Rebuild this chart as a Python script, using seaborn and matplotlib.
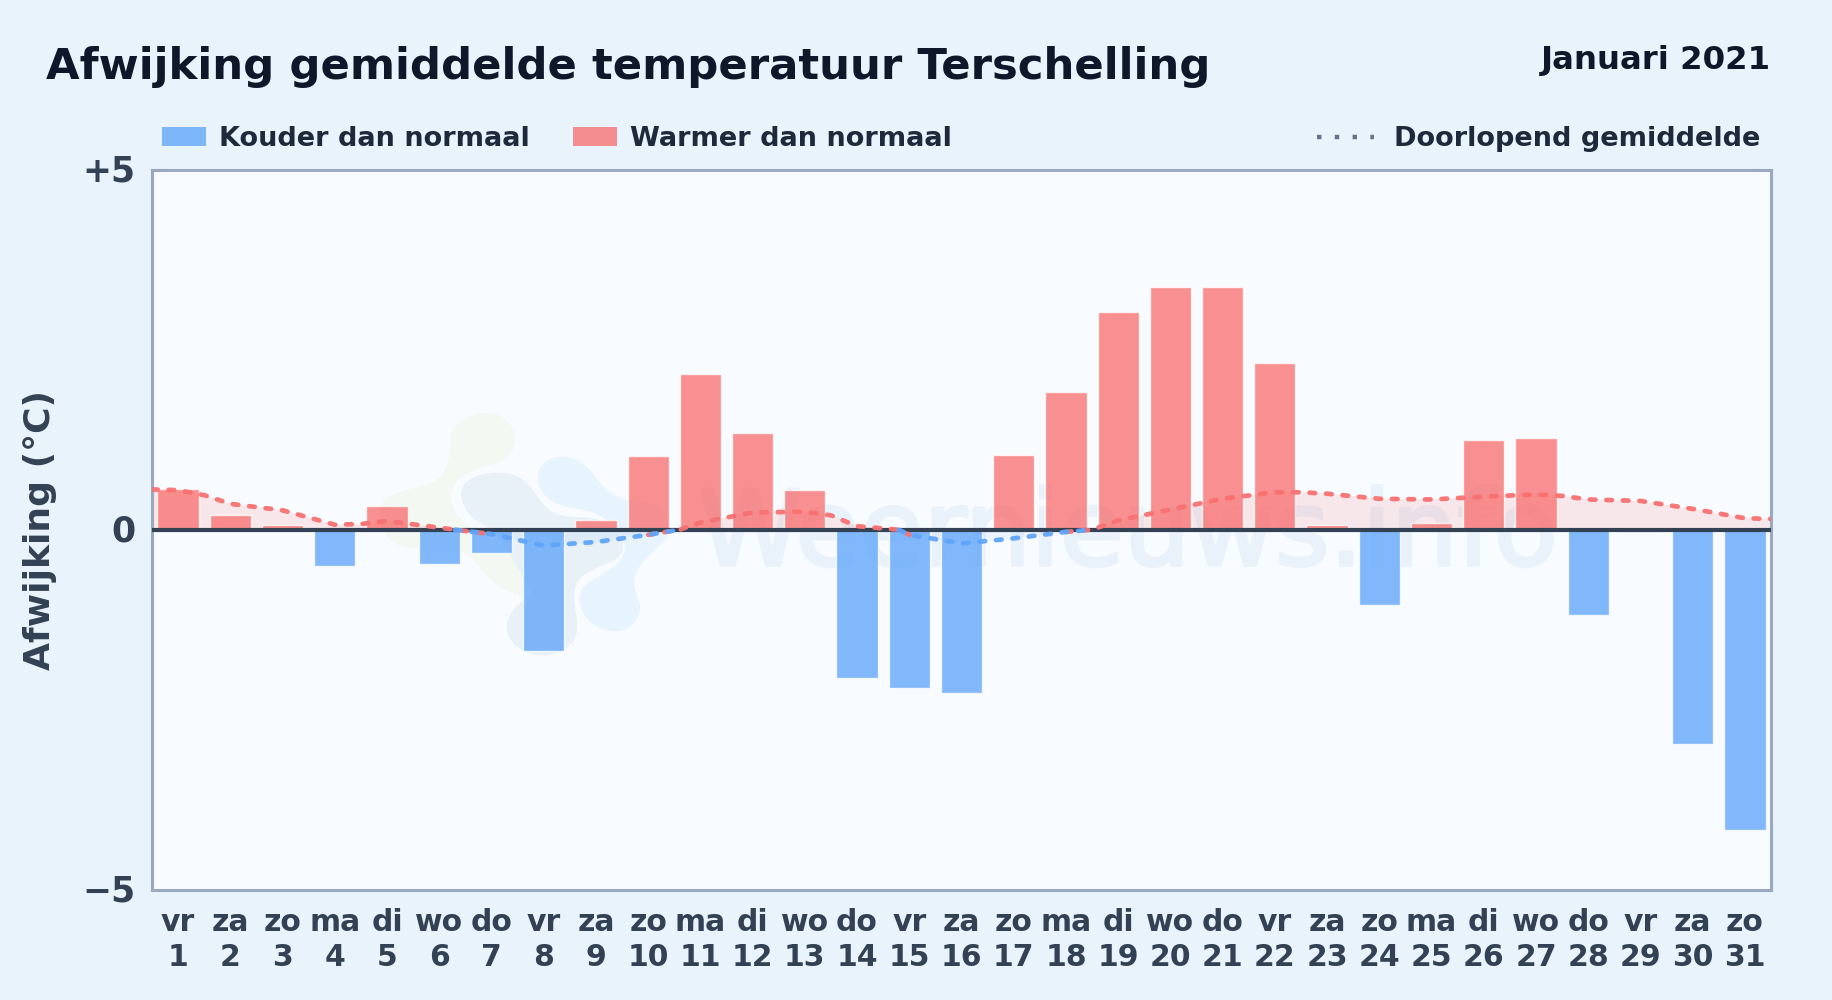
import numpy as np
import pandas as pd
import matplotlib
matplotlib.use("Agg")
import matplotlib.pyplot as plt
from matplotlib.patches import Rectangle, PathPatch
from matplotlib.path import Path
from matplotlib.transforms import ScaledTranslation
import matplotlib.patheffects as pe
import seaborn as sns

weekdays = ["vr","za","zo","ma","di","wo","do","vr","za","zo","ma","di","wo","do","vr","za","zo","ma","di","wo","do","vr","za","zo","ma","di","wo","do","vr","za","zo"]
days = list(range(1, 32))
anomaly = [0.57,0.20,0.07,-0.50,0.33,-0.47,-0.32,-1.68,0.14,1.03,2.16,1.34,0.55,-2.06,-2.20,-2.27,1.04,1.91,3.02,3.37,3.37,2.31,0.06,-1.04,0.09,1.25,1.27,-1.18,-0.03,-2.97,-4.17]
running_x = [-0.5,0,0.5,1,2,3,3.5,4,5,5.3,6,7,8,9,9.6,10,11,12,12.5,13,13.8,14,15,16,17,17.5,18,19,20,21,21.5,22,23,24,25,26,26.5,27,28,29,30,30.5]
running_y = [0.56,0.55,0.48,0.36,0.27,0.07,0.08,0.12,0.03,0.0,-0.06,-0.22,-0.17,-0.07,0.0,0.10,0.24,0.25,0.20,0.05,0.0,-0.07,-0.19,-0.12,-0.03,0.0,0.13,0.28,0.43,0.52,0.52,0.50,0.43,0.42,0.46,0.49,0.47,0.42,0.40,0.29,0.16,0.15]
title = "Afwijking gemiddelde temperatuur Terschelling"
period = "Januari 2021"

DPI = 100
sns.set_theme(style="white")
plt.rcParams["font.family"] = ["DejaVu Sans"]
plt.rcParams["font.weight"] = "bold"

W, H = 1832, 1000
fig = plt.figure(figsize=(W/DPI, H/DPI), dpi=DPI, facecolor="#e8f3fc")
L, R, T, B = 152, 1771, 169.5, 890
ax = fig.add_axes([L/W, 1-B/H, (R-L)/W, (B-T)/H], facecolor="#f8fbff")

def fx(x): return x/W
def fy(y): return 1-y/H

# pale logo behind the plot, outlined in crop coordinates of the reference
logo_green = [(330,120),(420,70),(500,90),(530,160),(490,220),(400,240),(340,280),(330,340),(370,400),(450,440),(520,500),(570,610),(520,610),(440,560),(400,500),(340,470),(240,475),(160,460),(125,400),(130,330),(200,300),(300,280),(335,200)]
logo_grey = [(370,290),(430,255),(520,255),(570,290),(600,340),(650,385),(780,385),(850,450),(830,510),(740,540),(690,590),(715,720),(680,770),(600,795),(520,760),(495,700),(530,640),(580,610),(550,560),(500,470),(460,420),(400,390),(370,340)]
logo_blue = [(590,260),(630,210),(700,205),(750,240),(790,300),(850,335),(960,345),(985,430),(950,470),(880,540),(880,600),(905,650),(870,710),(810,720),(745,690),(715,630),(730,580),(800,545),(855,500),(850,440),(780,370),(680,355),(620,330)]
def blob(pts, color):
    p = np.array(pts, float)
    p = p.mean(axis=0) + (p - p.mean(axis=0))*1.03
    p = np.column_stack([(340 + p[:, 0]/3)/W, 1 - (390 + p[:, 1]/3)/H])
    mids = (p + np.roll(p, -1, axis=0))/2
    verts = [mids[-1]]; codes = [Path.MOVETO]
    for c, m in zip(p, mids):
        verts += [c, m]; codes += [Path.CURVE3, Path.CURVE3]
    ax.add_patch(PathPatch(Path(verts, codes), transform=fig.transFigure, facecolor=color, lw=0, zorder=0.5))
blob(logo_green, "#f3f8f3")
blob(logo_grey, "#e8f0f8")
blob(logo_blue, "#e8f4fd")

df = pd.DataFrame({
    "label": [f"{w}\n{d}" for w, d in zip(weekdays, days)],
    "value": anomaly,
    "sign": ["warm" if v >= 0 else "koud" for v in anomaly],
})
sns.barplot(data=df, x="label", y="value", hue="sign", dodge=False, width=0.79,
            palette={"warm": "#f87171", "koud": "#60a5fa"}, alpha=0.78,
            saturation=1, legend=False, ax=ax, zorder=3, errorbar=None)

rx = np.array(running_x); ry = np.array(running_y)
ax.fill_between(rx, ry, 0, where=ry >= 0, color="#f87171", alpha=0.14, lw=0, zorder=2, interpolate=True)
ax.fill_between(rx, ry, 0, where=ry <= 0, color="#60a5fa", alpha=0.08, lw=0, zorder=2, interpolate=True)
neg = ry <= 0
rm = np.ma.masked_where(np.array([(ry[i] < 0) and (ry[max(i-1,0)] < 0) and (ry[min(i+1,len(ry)-1)] < 0) for i in range(len(ry))]), ry)
bm = np.ma.masked_where(~neg, ry)
for series, col in ((rm, "#f87171"), (bm, "#60a5fa")):
    ax.plot(rx, series, color=col, lw=3.4, dashes=(1.2, 2.3), dash_capstyle="round", zorder=5, alpha=0.95)

ax.axhline(0, color="#334155", lw=3, zorder=4)
ax.set_xlim(-0.5, 30.5)
ax.set_ylim(-5, 5)
ax.set_yticks([-5, 0, 5], ["\u22125", "0", "+5"])
ax.tick_params(axis="y", length=0, labelsize=25, labelcolor="#334155", pad=12)
ax.tick_params(axis="x", length=0, labelsize=21.5, labelcolor="#334155", pad=13)
for lab in ax.get_xticklabels() + ax.get_yticklabels():
    lab.set_fontweight("bold")
shift = ScaledTranslation(0, -0.017, fig.dpi_scale_trans)
for lab in ax.get_yticklabels():
    lab.set_verticalalignment("center")
    lab.set_transform(lab.get_transform() + shift)
for lab in ax.get_xticklabels():
    lab.set_linespacing(1.25)
ax.set_xlabel("")
ax.set_ylabel("Afwijking (\u00b0C)", fontsize=26, fontweight="bold", color="#334155", va="center")
ax.yaxis.set_label_coords((40 - L)/(R - L), 0.5)
for s in ax.spines.values():
    s.set_visible(True); s.set_color("#9aa9bf"); s.set_linewidth(2.2)

# watermark text
ax.text(0.603, 0.451, "Weernieuws.info", transform=ax.transAxes, ha="center", va="baseline",
        fontsize=75, fontweight="normal", color="#e9f2fb", zorder=1,
        path_effects=[pe.withStroke(linewidth=2.5, foreground="#e9f2fb")])

fig.text(fx(46), fy(67), title, fontsize=31.2, fontweight="bold", color="#0f172a", va="center", ha="left")
fig.text(fx(1771), fy(61), period, fontsize=23.3, fontweight="bold", color="#0f172a", va="center", ha="right")
for x0, col, txt, tx in ((162, "#60a5fa", "Kouder dan normaal", 219), (573, "#f87171", "Warmer dan normaal", 630)):
    fig.add_artist(Rectangle((fx(x0), fy(146)), 44/W, 19/H, transform=fig.transFigure, facecolor=col, alpha=0.78, lw=0))
    fig.text(fx(tx), fy(139), txt, fontsize=19.5, fontweight="bold", color="#1e293b", va="center", ha="left")
fig.add_artist(plt.Line2D([fx(1317), fx(1374)], [fy(137), fy(137)], transform=fig.transFigure, color="#64748b", lw=3.2, dashes=(1, 3)))
fig.text(fx(1760), fy(139), "Doorlopend gemiddelde", fontsize=19.5, fontweight="bold", color="#1e293b", va="center", ha="right")

fig.savefig("out.png", dpi=DPI, facecolor=fig.get_facecolor())
